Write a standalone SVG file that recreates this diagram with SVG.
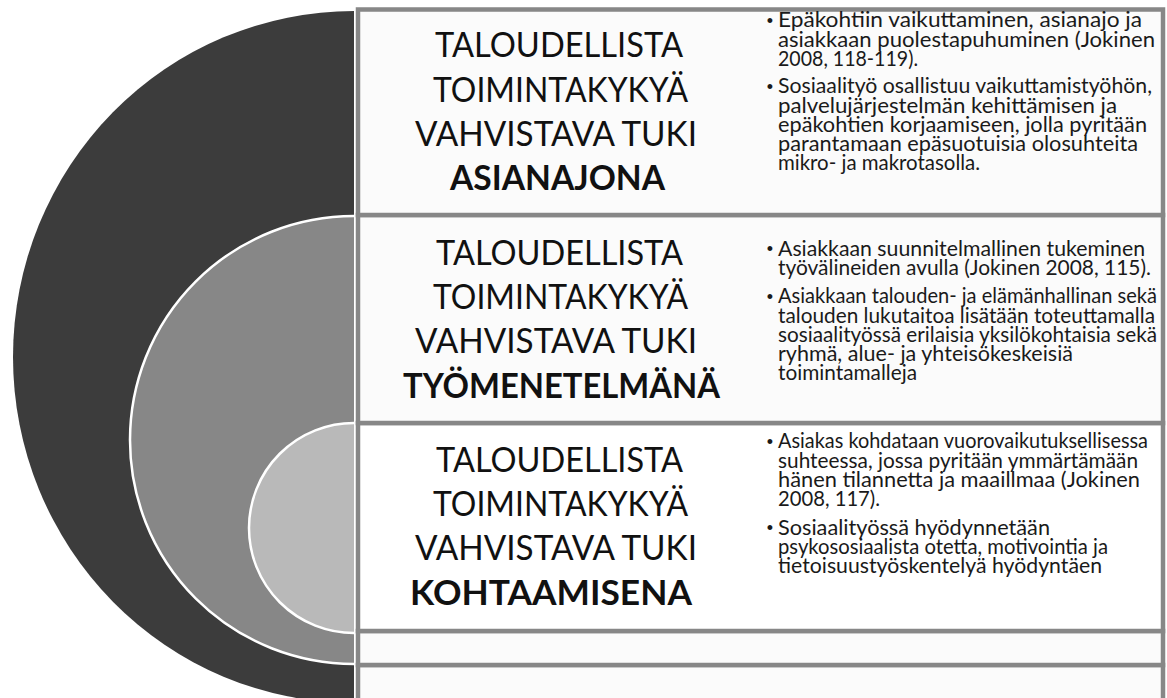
<svg xmlns="http://www.w3.org/2000/svg" width="1167" height="698" viewBox="0 0 1167 698">
<style>
.panel{stroke:#878787;stroke-width:4.5;fill:#fbfbfb}
.ttl{font-family:Lato,"Liberation Sans",sans-serif;font-size:34.5px;fill:#111}
.ttl.b{font-weight:bold}
.txt{font-family:Lato,"Liberation Sans",sans-serif;font-size:20.5px;fill:#1a1a1a}
.bul{font-family:"Liberation Sans",sans-serif;font-size:18px;fill:#1a1a1a}
.ring{fill:none;stroke:#ffffff;stroke-width:2.5}
</style>
<rect width="1167" height="698" fill="#ffffff"/>
<g id="circles">
<path d="M354,11 A341,346 0 0 0 354,703 Z" fill="#3c3c3c"/>
<path d="M354,216 A224,224 0 0 0 354,664 Z" fill="#878787"/>
<path class="ring" d="M354,216 A224,224 0 0 0 354,664"/>
<path d="M354,423 A105,105 0 0 0 354,633 Z" fill="#b9b9b9"/>
<path class="ring" d="M354,423 A105,105 0 0 0 354,633"/>
</g>
<g id="panel5"><rect class="panel" x="358" y="665" width="805" height="60"/></g>
<g id="panel4"><rect class="panel" x="358" y="631" width="805" height="34"/></g>
<g id="panel3">
<rect class="panel" x="358" y="423" width="805" height="208" style="fill:#ffffff"/>
<text class="ttl" x="436" y="471.7" textLength="247" lengthAdjust="spacingAndGlyphs">TALOUDELLISTA</text>
<text class="ttl" x="433" y="516" textLength="255" lengthAdjust="spacingAndGlyphs">TOIMINTAKYKYÄ</text>
<text class="ttl" x="415" y="560.3" textLength="282" lengthAdjust="spacingAndGlyphs">VAHVISTAVA TUKI</text>
<text class="ttl b" x="410" y="604.5" textLength="282" lengthAdjust="spacingAndGlyphs">KOHTAAMISENA</text>
<text class="bul" x="770" y="447.5" text-anchor="middle">•</text>
<text class="txt" x="778" y="448.3" textLength="370" lengthAdjust="spacingAndGlyphs">Asiakas kohdataan vuorovaikutuksellisessa</text>
<text class="txt" x="778" y="467.5" textLength="360" lengthAdjust="spacingAndGlyphs">suhteessa, jossa pyritään ymmärtämään</text>
<text class="txt" x="778" y="486.7" textLength="362" lengthAdjust="spacingAndGlyphs">hänen tilannetta ja maaillmaa (Jokinen</text>
<text class="txt" x="778" y="505.9" textLength="102" lengthAdjust="spacingAndGlyphs">2008, 117).</text>
<text class="bul" x="770" y="534.2" text-anchor="middle">•</text>
<text class="txt" x="778" y="535" textLength="272" lengthAdjust="spacingAndGlyphs">Sosiaalityössä hyödynnetään</text>
<text class="txt" x="778" y="554.2" textLength="330" lengthAdjust="spacingAndGlyphs">psykososiaalista otetta, motivointia ja</text>
<text class="txt" x="778" y="573.4" textLength="324" lengthAdjust="spacingAndGlyphs">tietoisuustyöskentelyä hyödyntäen</text>
</g>
<g id="panel2">
<rect class="panel" x="358" y="215" width="805" height="208"/>
<text class="ttl" x="436" y="264.5" textLength="247" lengthAdjust="spacingAndGlyphs">TALOUDELLISTA</text>
<text class="ttl" x="433" y="309" textLength="255" lengthAdjust="spacingAndGlyphs">TOIMINTAKYKYÄ</text>
<text class="ttl" x="415" y="353.3" textLength="282" lengthAdjust="spacingAndGlyphs">VAHVISTAVA TUKI</text>
<text class="ttl b" x="403" y="397.7" textLength="317" lengthAdjust="spacingAndGlyphs">TYÖMENETELMÄNÄ</text>
<text class="bul" x="770" y="254.7" text-anchor="middle">•</text>
<text class="txt" x="778" y="255.5" textLength="367" lengthAdjust="spacingAndGlyphs">Asiakkaan suunnitelmallinen tukeminen</text>
<text class="txt" x="778" y="274.7" textLength="373" lengthAdjust="spacingAndGlyphs">työvälineiden avulla (Jokinen 2008, 115).</text>
<text class="bul" x="770" y="302.5" text-anchor="middle">•</text>
<text class="txt" x="778" y="303.3" textLength="379" lengthAdjust="spacingAndGlyphs">Asiakkaan talouden- ja elämänhallinan sekä</text>
<text class="txt" x="778" y="322.5" textLength="377" lengthAdjust="spacingAndGlyphs">talouden lukutaitoa lisätään toteuttamalla</text>
<text class="txt" x="778" y="341.7" textLength="379" lengthAdjust="spacingAndGlyphs">sosiaalityössä erilaisia yksilökohtaisia sekä</text>
<text class="txt" x="778" y="360.9" textLength="295" lengthAdjust="spacingAndGlyphs">ryhmä, alue- ja yhteisökeskeisiä</text>
<text class="txt" x="778" y="380.1" textLength="139" lengthAdjust="spacingAndGlyphs">toimintamalleja</text>
</g>
<g id="panel1">
<rect class="panel" x="358" y="9.5" width="805" height="205.5"/>
<text class="ttl" x="435" y="57.3" textLength="248" lengthAdjust="spacingAndGlyphs">TALOUDELLISTA</text>
<text class="ttl" x="433" y="101.7" textLength="255" lengthAdjust="spacingAndGlyphs">TOIMINTAKYKYÄ</text>
<text class="ttl" x="415" y="146" textLength="282" lengthAdjust="spacingAndGlyphs">VAHVISTAVA TUKI</text>
<text class="ttl b" x="450" y="190.3" textLength="215" lengthAdjust="spacingAndGlyphs">ASIANAJONA</text>
<text class="bul" x="770" y="26.5" text-anchor="middle">•</text>
<text class="txt" x="778" y="27.3" textLength="364" lengthAdjust="spacingAndGlyphs">Epäkohtiin vaikuttaminen, asianajo ja</text>
<text class="txt" x="778" y="46.5" textLength="377" lengthAdjust="spacingAndGlyphs">asiakkaan puolestapuhuminen (Jokinen</text>
<text class="txt" x="778" y="65.7" textLength="140" lengthAdjust="spacingAndGlyphs">2008, 118-119).</text>
<text class="bul" x="770" y="92.5" text-anchor="middle">•</text>
<text class="txt" x="778" y="93.3" textLength="374" lengthAdjust="spacingAndGlyphs">Sosiaalityö osallistuu vaikuttamistyöhön,</text>
<text class="txt" x="778" y="112.5" textLength="339" lengthAdjust="spacingAndGlyphs">palvelujärjestelmän kehittämisen ja</text>
<text class="txt" x="778" y="131.7" textLength="369" lengthAdjust="spacingAndGlyphs">epäkohtien korjaamiseen, jolla pyritään</text>
<text class="txt" x="778" y="150.9" textLength="360" lengthAdjust="spacingAndGlyphs">parantamaan epäsuotuisia olosuhteita</text>
<text class="txt" x="778" y="170.1" textLength="202" lengthAdjust="spacingAndGlyphs">mikro- ja makrotasolla.</text>
</g>
<g id="connectors"/>
</svg>
